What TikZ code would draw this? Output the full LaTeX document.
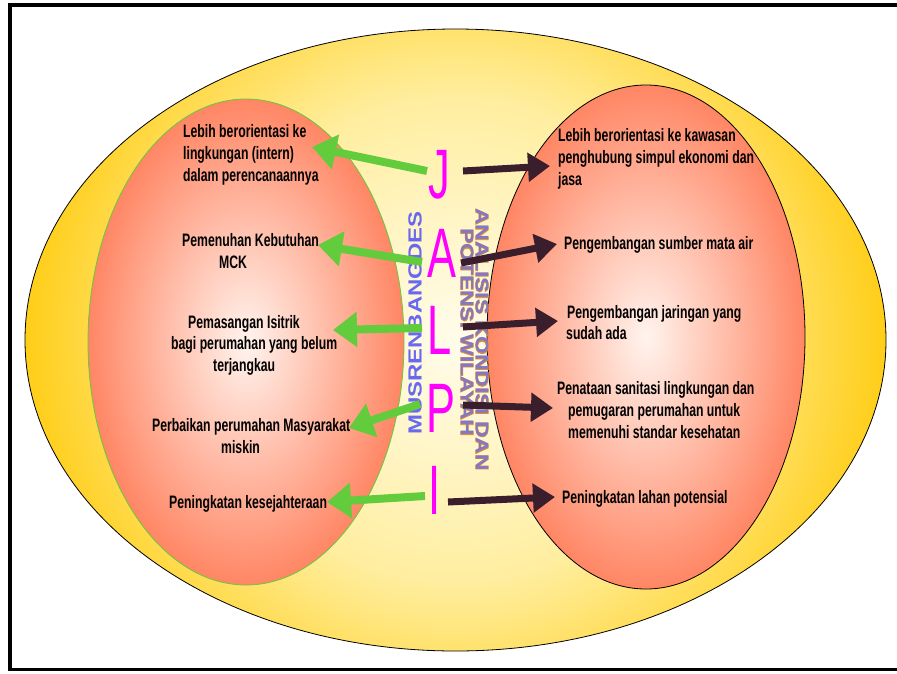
\documentclass[tikz,border=0pt]{standalone}
\usepackage{fontspec}
\setmainfont{Liberation Sans}
\newfontfamily\txtfont[FakeStretch=0.68]{Liberation Sans}
\newfontfamily\bigfont[FakeStretch=0.62]{Liberation Sans}
\newfontfamily\vfont[FakeStretch=1.26]{Liberation Sans Bold}
\newfontfamily\vfontol[FakeStretch=1.26,FakeBold=4]{Liberation Sans Bold}
\usetikzlibrary{arrows.meta}
\definecolor{ylwc}{RGB}{255,252,235}
\definecolor{ylwm}{RGB}{255,238,160}
\definecolor{ylwe}{RGB}{255,206,24}
\definecolor{salc}{RGB}{255,244,238}
\definecolor{sale}{RGB}{255,134,100}
\definecolor{mag}{RGB}{255,0,255}
\definecolor{grn}{RGB}{98,204,60}
\definecolor{drk}{RGB}{58,30,44}
\definecolor{blu}{RGB}{104,104,240}
\definecolor{org}{RGB}{222,140,56}
\definecolor{pur}{RGB}{130,120,196}
\pgfdeclareradialshading{ylwshade}{\pgfpoint{0bp}{0bp}}{color(0bp)=(ylwc); color(14bp)=(ylwm); color(25bp)=(ylwe); color(50bp)=(ylwe)}
\begin{document}
\begin{tikzpicture}[x=1pt,y=-1pt,
  txt/.style={font=\txtfont\bfseries\fontsize{18}{22}\selectfont, inner sep=0, anchor=base west},
  big/.style={font=\bigfont\fontsize{70}{70}\selectfont, text=mag, inner sep=0},
  garrow/.style={draw=grn, line width=8pt, -{Triangle[length=24pt,width=34pt]}},
  darrow/.style={draw=drk, line width=7pt, -{Triangle[length=22pt,width=28pt]}},
  vtxt/.style={font=\vfont\fontsize{19}{19}\selectfont, inner sep=0},
  vtxtol/.style={font=\vfontol\fontsize{19}{19}\selectfont, inner sep=0},
]
\useasboundingbox (0,0) rectangle (897,673);
% frame
\fill[white] (0,0) rectangle (897,673);
\draw[line width=4.5pt] (8,5) -- (897,5);
\draw[line width=4pt] (10,3) -- (10,671);
\draw[line width=3pt] (8,669.5) -- (897,669.5);
% big yellow ellipse (circular gradient clipped to the ellipse)
\begin{scope}
  \clip (455.5,340) ellipse [x radius=430.5, y radius=311];
  \shade[shading=ylwshade] (455.5,340) circle [radius=430.5];
\end{scope}
\draw[black, line width=0.8pt] (455.5,340) ellipse [x radius=430.5, y radius=311];
% inner ellipses
\path[draw=grn, line width=0.8pt, shading=radial, inner color=salc, outer color=sale]
  (246,342) ellipse [x radius=158, y radius=243];
\path[draw=black, line width=0.8pt, shading=radial, inner color=salc, outer color=sale]
  (646,337) ellipse [x radius=159, y radius=252];
% vertical texts
\node[vtxt, rotate=90, text=blu] (musren) at (415,323) {MUSRENBANGDES};
\node[vtxtol, rotate=-90, text=org, font=\vfontol\fontsize{18}{18}\selectfont] (an1o) at (482,339.5) {ANALISIS KONDISI DAN};
\node[vtxt, rotate=-90, text=pur, font=\vfont\fontsize{18}{18}\selectfont] (an1) at (482,339.5) {ANALISIS KONDISI DAN};
\node[vtxtol, rotate=-90, text=org, font=\vfontol\fontsize{18}{18}\selectfont] (an2o) at (467,332.5) {POTENSI WILAYAH};
\node[vtxt, rotate=-90, text=pur, font=\vfont\fontsize{18}{18}\selectfont] (an2) at (467,332.5) {POTENSI WILAYAH};
% left texts
\node[txt] (l1a) at (183,137) {Lebih berorientasi ke};
\node[txt] (l1b) at (183,159) {lingkungan (intern)};
\node[txt] (l1c) at (183,181) {dalam perencanaannya};
\node[txt] (l2a) at (182,246) {Pemenuhan Kebutuhan};
\node[txt] (l2b) at (219,268) {MCK};
\node[txt] (l3a) at (188,328) {Pemasangan Isitrik};
\node[txt] (l3b) at (171,349) {bagi perumahan yang belum};
\node[txt] (l3c) at (213,371) {terjangkau};
\node[txt] (l4a) at (152,431) {Perbaikan perumahan Masyarakat};
\node[txt] (l4b) at (221,453) {miskin};
\node[txt] (l5a) at (169,508) {Peningkatan kesejahteraan};
% right texts
\node[txt] (r1a) at (558,141) {Lebih berorientasi ke kawasan};
\node[txt] (r1b) at (558,163) {penghubung simpul ekonomi dan};
\node[txt] (r1c) at (558,185) {jasa};
\node[txt] (r2a) at (564,249) {Pengembangan sumber mata air};
\node[txt] (r3a) at (567,318) {Pengembangan jaringan yang};
\node[txt] (r3b) at (566,339) {sudah ada};
\node[txt] (r4a) at (557,394) {Penataan sanitasi lingkungan dan};
\node[txt] (r4b) at (568,416) {pemugaran perumahan untuk};
\node[txt] (r4c) at (568,438) {memenuhi standar kesehatan};
\node[txt] (r5a) at (562,503) {Peningkatan lahan potensial};
% arrow end points
\coordinate (gs1) at (427,171); \coordinate (gt1) at (312,147);
\coordinate (gs2) at (422,262); \coordinate (gt2) at (318,245);
\coordinate (gs3) at (422,328); \coordinate (gt3) at (333,330);
\coordinate (gs4) at (420,404); \coordinate (gt4) at (349,428);
\coordinate (gs5) at (425,496); \coordinate (gt5) at (327,502);
\coordinate (ds1) at (463,171); \coordinate (dt1) at (550,166);
\coordinate (ds2) at (461,263); \coordinate (dt2) at (557,244);
\coordinate (ds3) at (463,327); \coordinate (dt3) at (558,321);
\coordinate (ds4) at (463,405); \coordinate (dt4) at (553,408);
\coordinate (ds5) at (448,502); \coordinate (dt5) at (555,497);
\draw[garrow] (gs1) -- (gt1);
\draw[garrow] (gs2) -- (gt2);
\draw[garrow] (gs3) -- (gt3);
\draw[garrow] (gs4) -- (gt4);
\draw[garrow] (gs5) -- (gt5);
\draw[darrow] (ds1) -- (dt1);
\draw[darrow] (ds2) -- (dt2);
\draw[darrow] (ds3) -- (dt3);
\draw[darrow] (ds4) -- (dt4);
\draw[darrow] (ds5) -- (dt5);
% letters
\node[big] (J) at (439,175) {J};
\node[big] (A) at (442,253) {A};
\node[big] (L) at (440,330) {L};
\node[big] (P) at (441,408) {P};
\node[big] (I) at (435,490) {I};
\end{tikzpicture}
\end{document}
